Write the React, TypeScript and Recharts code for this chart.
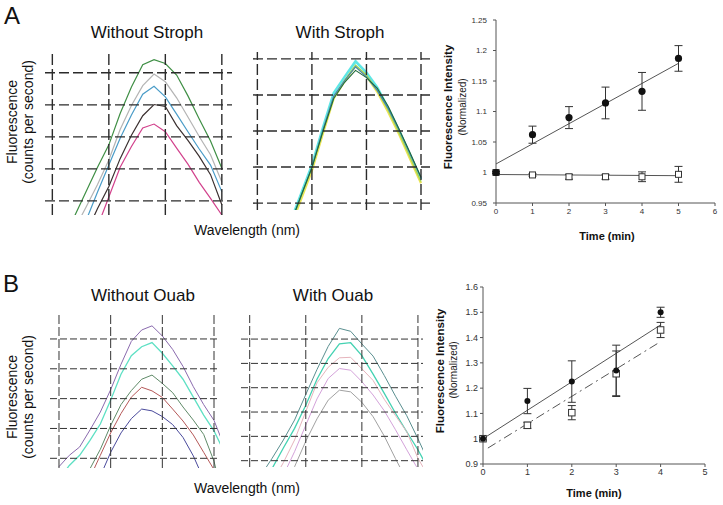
import React from 'react'
import { LineChart, Line, XAxis, YAxis, ReferenceLine, ComposedChart, Scatter, ErrorBar } from 'recharts'

const FONT = '"Liberation Sans", Arial, Helvetica, sans-serif'

// wavelength samples (nm) for the spectra panels
const wavelengthsA = [512, 514, 516, 518, 520, 522, 524, 526, 528, 530, 532, 534, 536, 538, 540]
const wavelengthsB = [510, 512, 514, 516, 518, 520, 522, 524, 526, 528, 530, 532, 534, 536, 538, 540, 542]
const gridWavelengths = [510, 520, 530, 540]
const gridLevels5 = [1, 2, 3, 4, 5]
const gridLevels6 = [1, 2, 3, 4, 5, 6]

// A - without strophanthidin (arbitrary fluorescence units)
const noStrophGreen = [-0.2, 0.55, 1.3, 2.05, 2.75, 3.73, 4.56, 5.25, 5.41, 5.29, 4.93, 4.28, 3.56, 2.87, 2.02]
const noStrophGray = [-0.5, 0.14, 0.82, 1.51, 2.28, 3.23, 3.98, 4.6, 4.96, 4.72, 4.22, 3.62, 3.01, 2.44, 1.59]
const noStrophBlue = [-1, -0.3, 0.4, 1.28, 2.12, 2.96, 3.68, 4.33, 4.58, 4.25, 3.71, 3.16, 2.62, 2.12, 1.29]
const noStrophDark = [-1.5, -0.8, 0.0, 0.76, 1.45, 2.32, 3.05, 3.66, 4.01, 3.95, 3.35, 2.89, 2.39, 1.82, 0.88]
const noStrophPink = [-2, -1.5, -0.6, 0.2, 1.12, 2.05, 2.7, 3.28, 3.4, 3.16, 2.65, 2.15, 1.58, 1.08, 0.56]

// A - with strophanthidin
const strophCyan = [-1.15, -0.35, 0.45, 1.25, 2.05, 3.08, 4.05, 4.5, 4.93, 4.62, 4.2, 3.62, 3.0, 2.33, 1.66]
const strophYellow = [-1.3, -0.5, 0.3, 1.1, 1.9, 2.92, 3.9, 4.38, 4.8, 4.52, 4.08, 3.52, 2.9, 2.22, 1.55]
const strophLime = [-1.2, -0.4, 0.38, 1.18, 1.98, 3.0, 3.95, 4.4, 4.82, 4.55, 4.12, 3.58, 2.95, 2.28, 1.6]
const strophBlue = [-1.2, -0.4, 0.4, 1.2, 2.0, 3.02, 3.97, 4.4, 4.78, 4.5, 4.12, 3.62, 3.02, 2.36, 1.7]
const strophDark = [-1.2, -0.4, 0.4, 1.2, 1.98, 2.98, 3.9, 4.35, 4.68, 4.48, 4.18, 3.68, 3.05, 2.4, 1.72]

// B - without ouabain
const noOuabPurple = [0.72, 1.1, 1.38, 1.95, 2.55, 3.3, 4.15, 4.92, 5.3, 5.44, 5.1, 4.65, 4.08, 3.4, 2.8, 2.27, 1.4]
const noOuabCyan = [0.3, 0.76, 1.1, 1.6, 2.15, 2.95, 3.82, 4.44, 4.74, 4.88, 4.52, 4.1, 3.65, 3.05, 2.45, 1.92, 1.2]
const noOuabGreen = [-1.5, -0.8, 0.0, 0.65, 1.3, 2.1, 2.8, 3.27, 3.65, 3.79, 3.51, 3.2, 2.72, 2.28, 1.8, 0.9, -0.5]
const noOuabRed = [-1.8, -1.1, -0.4, 0.35, 1.1, 1.85, 2.5, 3.05, 3.38, 3.26, 3.04, 2.65, 2.25, 1.78, 1.2, 0.62, -0.2]
const noOuabNavy = [-2.5, -1.8, -1.0, -0.3, 0.4, 1.2, 1.85, 2.33, 2.65, 2.59, 2.4, 2.13, 1.7, 1.08, 0.3, -0.5, -1.3]

// B - with ouabain
const ouabTeal = [-0.3, 0.4, 1.1, 1.85, 2.67, 3.72, 4.75, 5.7, 6.44, 6.32, 5.8, 5.3, 4.5, 3.65, 2.85, 1.9, 0.9]
const ouabCyan = [-1.5, -0.6, 0.68, 1.52, 2.33, 3.28, 4.35, 5.2, 5.8, 5.85, 5.32, 4.56, 3.77, 2.95, 2.19, 1.45, 0.6]
const ouabPink = [-1.5, -0.8, 0.1, 0.92, 1.85, 3.02, 4.2, 4.84, 5.23, 5.25, 4.78, 4.3, 3.52, 2.85, 2.19, 1.1, 0.3]
const ouabMauve = [-2, -1.2, -0.4, 0.4, 1.37, 2.46, 3.54, 4.38, 4.79, 4.72, 4.25, 3.7, 3.05, 2.27, 1.45, 0.65, -0.2]
const ouabGray = [-3, -2, -1.1, -0.2, 0.75, 1.8, 2.72, 3.49, 3.9, 3.83, 3.4, 2.81, 2.01, 1.08, 0.2, -0.7, -1.6]

// time courses
const minutesA = [0, 1, 2, 3, 4, 5]
const controlA = [1.0, 1.062, 1.09, 1.114, 1.133, 1.187]
const controlAErr = [0.002, 0.014, 0.018, 0.026, 0.031, 0.021]
const strophA = [1.0, 0.996, 0.993, 0.993, 0.993, 0.997]
const strophAErr = [0.002, 0.002, 0.004, 0.004, 0.008, 0.013]
const fitControlA = [1.014, 1.179]
const fitStrophA = [0.9967, 0.9948]
const fitTimesA = [0, 5]
const yTicksA = [0.95, 1, 1.05, 1.1, 1.15, 1.2, 1.25]
const xTicksA = [0, 1, 2, 3, 4, 5, 6]

const minutesB = [0, 1, 2, 3, 4]
const controlB = [1.0, 1.149, 1.226, 1.27, 1.5]
const controlBErr = [0.005, 0.05, 0.082, 0.1, 0.02]
const ouabB = [1.0, 1.053, 1.103, 1.257, 1.43]
const ouabBErr = [0.005, 0.012, 0.028, 0.09, 0.03]
const fitControlB = [1.0, 1.45]
const fitTimesControlB = [0, 4]
const fitOuabB = [0.963, 1.384]
const fitTimesOuabB = [0.11, 4]
const yTicksB = [0.9, 1, 1.1, 1.2, 1.3, 1.4, 1.5, 1.6]
const xTicksB = [0, 1, 2, 3, 4, 5]

type Trace = { key: string; values: number[]; color: string; width: number }

interface SpectrumProps {
  left: number; top: number; width: number; height: number
  xDomain: [number, number]; yDomain: [number, number]
  wavelengths: number[]; traces: Trace[]; levels: number[]
  hDash: string; vDash: string; gridColor: string; gridWidth: number
}

function Spectrum(p: SpectrumProps) {
  const rows = p.wavelengths.map((w, i) => {
    const row: Record<string, number> = { w }
    p.traces.forEach((t) => { row[t.key] = t.values[i] })
    return row
  })
  return (
    <div style={{ position: 'absolute', left: p.left, top: p.top }}>
      <LineChart width={p.width} height={p.height} data={rows} margin={{ top: 0, right: 0, bottom: 0, left: 0 }}>
        <XAxis dataKey="w" type="number" domain={p.xDomain} allowDataOverflow hide />
        <YAxis type="number" domain={p.yDomain} allowDataOverflow hide />
        {p.traces.map((t) => (
          <Line key={t.key} type="linear" dataKey={t.key} stroke={t.color} strokeWidth={t.width}
            dot={false} activeDot={false} isAnimationActive={false} />
        ))}
        {gridWavelengths.map((x) => (
          <ReferenceLine key={'v' + x} x={x} stroke={p.gridColor} strokeWidth={p.gridWidth} strokeDasharray={p.vDash} />
        ))}
        {p.levels.map((y) => (
          <ReferenceLine key={'h' + y} y={y} stroke={p.gridColor} strokeWidth={p.gridWidth} strokeDasharray={p.hDash} />
        ))}
      </LineChart>
    </div>
  )
}

const toRows = (xs: number[], vs: number[], es?: number[]) =>
  xs.map((t, i) => ({ t, v: vs[i], e: es ? es[i] : 0 }))

const Dot = (r: number) => (props: any) => <circle cx={props.cx} cy={props.cy} r={r} fill="#111" />
const Box = (s: number) => (props: any) => (
  <rect x={props.cx - s / 2} y={props.cy - s / 2} width={s} height={s} fill="#fff" stroke="#333" strokeWidth={1} />
)

const tickStyle = { fontSize: 8, fill: '#333', fontFamily: FONT }

export default function App() {
  const traceWithoutStroph: Trace[] = [
    { key: 'green', values: noStrophGreen, color: '#3f8f45', width: 1.2 },
    { key: 'gray', values: noStrophGray, color: '#b4b4b4', width: 1.2 },
    { key: 'blue', values: noStrophBlue, color: '#4a9cc8', width: 1.2 },
    { key: 'dark', values: noStrophDark, color: '#3b3030', width: 1.2 },
    { key: 'pink', values: noStrophPink, color: '#d2418c', width: 1.2 },
  ]
  const traceWithStroph: Trace[] = [
    { key: 'cyan', values: strophCyan, color: '#5fe6e6', width: 2.6 },
    { key: 'yellow', values: strophYellow, color: '#ece455', width: 2.2 },
    { key: 'lime', values: strophLime, color: '#9ed45a', width: 1.4 },
    { key: 'blue', values: strophBlue, color: '#3f7fbf', width: 1.1 },
    { key: 'dark', values: strophDark, color: '#1f6a3c', width: 1.1 },
  ]
  const traceWithoutOuab: Trace[] = [
    { key: 'purple', values: noOuabPurple, color: '#8a6aae', width: 1 },
    { key: 'cyan', values: noOuabCyan, color: '#5ee0c4', width: 1.3 },
    { key: 'green', values: noOuabGreen, color: '#5f8a68', width: 1 },
    { key: 'red', values: noOuabRed, color: '#b55858', width: 1 },
    { key: 'navy', values: noOuabNavy, color: '#4a4a9c', width: 1 },
  ]
  const traceWithOuab: Trace[] = [
    { key: 'teal', values: ouabTeal, color: '#5a8f90', width: 1 },
    { key: 'cyan', values: ouabCyan, color: '#44d2b2', width: 1.3 },
    { key: 'pink', values: ouabPink, color: '#e6b4bc', width: 1 },
    { key: 'mauve', values: ouabMauve, color: '#d4a2da', width: 1 },
    { key: 'gray', values: ouabGray, color: '#a2a2a2', width: 1 },
  ]

  return (
    <div style={{ position: 'absolute', left: 0, top: 0, width: 723, height: 505, background: '#fff', overflow: 'hidden' }}>
      <Spectrum left={45} top={52} width={187} height={163} xDomain={[508.7, 541.8]} yDomain={[0.56, 5.65]}
        wavelengths={wavelengthsA} traces={traceWithoutStroph} levels={gridLevels5}
        hDash="10 4" vDash="11 4" gridColor="#2b2b2b" gridWidth={1.4} />
      <Spectrum left={253} top={52} width={177} height={158} xDomain={[509.2, 541.65]} yDomain={[0.81, 5.19]}
        wavelengths={wavelengthsA} traces={traceWithStroph} levels={gridLevels5}
        hDash="10 4" vDash="11 4" gridColor="#2b2b2b" gridWidth={1.4} />
      <Spectrum left={50} top={313} width={170} height={155} xDomain={[508.26, 541.16]} yDomain={[0.675, 5.87]}
        wavelengths={wavelengthsB} traces={traceWithoutOuab} levels={gridLevels5}
        hDash="7 3" vDash="9 3" gridColor="#333" gridWidth={1} />
      <Spectrum left={241} top={315} width={182} height={152} xDomain={[508.45, 540.9]} yDomain={[0.74, 6.99]}
        wavelengths={wavelengthsB} traces={traceWithOuab} levels={gridLevels6}
        hDash="7 3" vDash="9 3" gridColor="#333" gridWidth={1} />

      <div style={{ position: 'absolute', left: 450, top: 10 }}>
        <ComposedChart width={273} height={214} margin={{ top: 10, right: 8, bottom: 0, left: 0 }}>
          <XAxis type="number" dataKey="t" domain={[0, 6]} ticks={xTicksA} interval={0} height={21}
            tick={tickStyle} tickSize={3} tickMargin={2} stroke="#555" />
          <YAxis type="number" domain={[0.95, 1.25]} ticks={yTicksA} interval={0} width={46}
            tick={tickStyle} tickSize={3} tickMargin={6} stroke="#555" />
          <Line data={toRows(fitTimesA, fitControlA)} dataKey="v" stroke="#555" strokeWidth={1}
            dot={false} activeDot={false} isAnimationActive={false} />
          <Line data={toRows(fitTimesA, fitStrophA)} dataKey="v" stroke="#555" strokeWidth={1}
            dot={false} activeDot={false} isAnimationActive={false} />
          <Scatter data={toRows(minutesA, strophA, strophAErr)} dataKey="v" shape={Box(6)} isAnimationActive={false}>
            <ErrorBar dataKey="e" direction="y" width={4} stroke="#333" strokeWidth={1} />
          </Scatter>
          <Scatter data={toRows(minutesA, controlA, controlAErr)} dataKey="v" shape={Dot(3.6)} isAnimationActive={false}>
            <ErrorBar dataKey="e" direction="y" width={4} stroke="#333" strokeWidth={1} />
          </Scatter>
        </ComposedChart>
      </div>

      <div style={{ position: 'absolute', left: 440, top: 278 }}>
        <ComposedChart width={280} height={208} margin={{ top: 9, right: 15, bottom: 0, left: 0 }}>
          <XAxis type="number" dataKey="t" domain={[0, 5]} ticks={xTicksB} interval={0} height={22}
            tick={{ ...tickStyle, fontSize: 9 }} tickSize={3} tickMargin={2} stroke="#555" />
          <YAxis type="number" domain={[0.9, 1.6]} ticks={yTicksB} interval={0} width={43}
            tick={{ ...tickStyle, fontSize: 9 }} tickSize={3} tickMargin={2} stroke="#555" />
          <Line data={toRows(fitTimesControlB, fitControlB)} dataKey="v" stroke="#555" strokeWidth={1}
            dot={false} activeDot={false} isAnimationActive={false} />
          <Line data={toRows(fitTimesOuabB, fitOuabB)} dataKey="v" stroke="#555" strokeWidth={1}
            strokeDasharray="9 4 2 4" dot={false} activeDot={false} isAnimationActive={false} />
          <Scatter data={toRows(minutesB, ouabB, ouabBErr)} dataKey="v" shape={Box(6.5)} isAnimationActive={false}>
            <ErrorBar dataKey="e" direction="y" width={4} stroke="#333" strokeWidth={1} />
          </Scatter>
          <Scatter data={toRows(minutesB, controlB, controlBErr)} dataKey="v" shape={Dot(3)} isAnimationActive={false}>
            <ErrorBar dataKey="e" direction="y" width={4} stroke="#333" strokeWidth={1} />
          </Scatter>
        </ComposedChart>
      </div>

      <svg width={723} height={505} style={{ position: 'absolute', left: 0, top: 0, pointerEvents: 'none' }}
        fontFamily={FONT}>
        <text x={4} y={24} fontSize={24} fill="#111">A</text>
        <text x={3} y={292} fontSize={24} fill="#111">B</text>

        <text x={147} y={32} fontSize={17} textAnchor="middle" dominantBaseline="central" fill="#111">Without Stroph</text>
        <text x={340} y={32} fontSize={17} textAnchor="middle" dominantBaseline="central" fill="#111">With Stroph</text>
        <text x={143} y={295} fontSize={17} textAnchor="middle" dominantBaseline="central" fill="#111">Without Ouab</text>
        <text x={333} y={295} fontSize={17} textAnchor="middle" dominantBaseline="central" fill="#111">With Ouab</text>

        <text x={247} y={230} fontSize={14} textAnchor="middle" dominantBaseline="central" fill="#111">Wavelength (nm)</text>
        <text x={247} y={488} fontSize={14} textAnchor="middle" dominantBaseline="central" fill="#111">Wavelength (nm)</text>

        <g transform="translate(12 122) rotate(-90)">
          <text fontSize={14} textAnchor="middle" dominantBaseline="central" fill="#111">Fluorescence</text>
        </g>
        <g transform="translate(28 122) rotate(-90)">
          <text fontSize={14} textAnchor="middle" dominantBaseline="central" fill="#111">(counts per second)</text>
        </g>
        <g transform="translate(12 397) rotate(-90)">
          <text fontSize={14} textAnchor="middle" dominantBaseline="central" fill="#111">Fluorescence</text>
        </g>
        <g transform="translate(28 397) rotate(-90)">
          <text fontSize={14} textAnchor="middle" dominantBaseline="central" fill="#111">(counts per second)</text>
        </g>

        <g transform="translate(448 107) rotate(-90)">
          <text fontSize={11.5} fontWeight="bold" textAnchor="middle" dominantBaseline="central" fill="#111">Fluorescence Intensity</text>
        </g>
        <g transform="translate(462 107) rotate(-90)">
          <text fontSize={10} textAnchor="middle" dominantBaseline="central" fill="#222">(Normalized)</text>
        </g>
        <g transform="translate(440 371) rotate(-90)">
          <text fontSize={11.5} fontWeight="bold" textAnchor="middle" dominantBaseline="central" fill="#111">Fluorescence Intensity</text>
        </g>
        <g transform="translate(453 370) rotate(-90)">
          <text fontSize={10} textAnchor="middle" dominantBaseline="central" fill="#222">(Normalized)</text>
        </g>

        <text x={607} y={236} fontSize={11} fontWeight="bold" textAnchor="middle" dominantBaseline="central" fill="#111">Time (min)</text>
        <text x={594} y={493} fontSize={11} fontWeight="bold" textAnchor="middle" dominantBaseline="central" fill="#111">Time (min)</text>
      </svg>
    </div>
  )
}
